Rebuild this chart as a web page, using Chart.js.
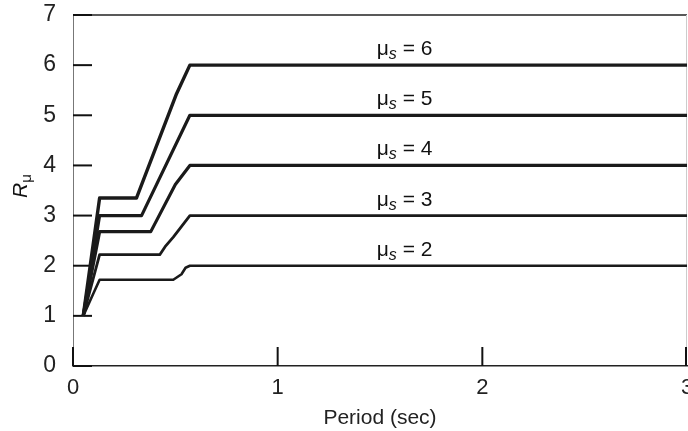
<!DOCTYPE html>
<html>
<head>
<meta charset="utf-8">
<script src="https://cdn.jsdelivr.net/npm/chart.js@4"></script>
<style>
  html, body { margin: 0; padding: 0; background: #fff; }
  #wrap { width: 688px; height: 431px; }
</style>
</head>
<body>
<div id="wrap"><canvas id="chart" width="688" height="431"></canvas></div>
<script>
// period (sec) and R_mu points for each ductility curve
const mu2T = [0.05, 0.1, 0.13, 0.49, 0.53, 0.55, 0.571, 3];
const mu2R = [1, 1.45, 1.72, 1.72, 1.83, 1.96, 2, 2];
const mu3T = [0.05, 0.13, 0.424, 0.45, 0.49, 0.571, 3];
const mu3R = [1, 2.22, 2.22, 2.38, 2.57, 3, 3];
const mu4T = [0.05, 0.13, 0.38, 0.5, 0.571, 3];
const mu4R = [1, 2.68, 2.68, 3.62, 4, 4];
const mu5T = [0.05, 0.13, 0.335, 0.571, 3];
const mu5R = [1, 3, 3, 5, 5];
const mu6T = [0.05, 0.13, 0.31, 0.506, 0.571, 3];
const mu6R = [1, 3.35, 3.35, 5.43, 6, 6];

const muValues = [2, 3, 4, 5, 6];
const labelPeriod = 1.62;
const xTicks = [0, 1, 2, 3];
const yTicks = [0, 1, 2, 3, 4, 5, 6, 7];

const FONT = "'Liberation Sans', Arial, Helvetica, sans-serif";

function toPoints(ts, rs) {
  return ts.map((t, i) => ({ x: t, y: rs[i] }));
}

const curves = [
  { mu: 2, pts: toPoints(mu2T, mu2R), w: 2.6 },
  { mu: 3, pts: toPoints(mu3T, mu3R), w: 2.8 },
  { mu: 4, pts: toPoints(mu4T, mu4R), w: 3.2 },
  { mu: 5, pts: toPoints(mu5T, mu5R), w: 3.2 },
  { mu: 6, pts: toPoints(mu6T, mu6R), w: 3.4 }
];

// inward ticks + top/right frame
const framePlugin = {
  id: 'frame',
  beforeDatasetsDraw(chart) {
    const { ctx, chartArea: a, scales } = chart;
    ctx.save();
    ctx.strokeStyle = '#222';
    ctx.lineWidth = 1.5;
    ctx.beginPath();
    ctx.moveTo(a.left, a.top);
    ctx.lineTo(a.right, a.top);
    ctx.stroke();
    ctx.strokeStyle = '#ccc';
    ctx.lineWidth = 1;
    ctx.beginPath();
    ctx.moveTo(a.right - 0.5, a.top);
    ctx.lineTo(a.right - 0.5, a.bottom);
    ctx.stroke();

    ctx.strokeStyle = '#111';
    ctx.lineWidth = 2;
    yTicks.forEach(v => {
      const y = scales.y.getPixelForValue(v);
      ctx.beginPath();
      ctx.moveTo(a.left, y);
      ctx.lineTo(a.left + 19, y);
      ctx.stroke();
    });
    xTicks.forEach(v => {
      const x = Math.min(scales.x.getPixelForValue(v), a.right - 1);
      ctx.beginPath();
      ctx.moveTo(x, a.bottom);
      ctx.lineTo(x, a.bottom - 19);
      ctx.stroke();
    });
    ctx.restore();
  },
  afterDatasetsDraw(chart) {
    const { ctx, scales } = chart;
    ctx.save();
    ctx.fillStyle = '#111';
    ctx.textBaseline = 'alphabetic';
    muValues.forEach(mu => {
      const cx = scales.x.getPixelForValue(labelPeriod);
      const base = scales.y.getPixelForValue(mu) - 10;
      const f1 = '21px ' + FONT;
      const f2 = 'italic 16px ' + FONT;
      ctx.font = f1;
      const wMu = ctx.measureText('\u03bc').width;
      const tail = ' = ' + mu;
      const wTail = ctx.measureText(tail).width;
      ctx.font = f2;
      const wS = ctx.measureText('s').width;
      let x = cx - (wMu + wS + wTail) / 2;
      ctx.font = f1;
      ctx.fillText('\u03bc', x, base);
      x += wMu;
      ctx.font = f2;
      ctx.fillText('s', x, base + 4);
      x += wS;
      ctx.font = f1;
      ctx.fillText(tail, x, base);
    });

    // y axis title R_mu
    ctx.translate(27, 190);
    ctx.rotate(-Math.PI / 2);
    ctx.font = 'italic 21px ' + FONT;
    ctx.fillText('R', -8, 0);
    const wR = ctx.measureText('R').width;
    ctx.font = '15px ' + FONT;
    ctx.fillText('\u03bc', -8 + wR, 4);
    ctx.restore();
  }
};

new Chart(document.getElementById('chart'), {
  type: 'scatter',
  data: {
    datasets: curves.map(c => ({
      label: 'mu_s = ' + c.mu,
      data: c.pts,
      showLine: true,
      borderColor: '#1a1a1a',
      borderWidth: c.w,
      pointRadius: 0,
      tension: 0,
      borderJoinStyle: 'round'
    }))
  },
  options: {
    responsive: false,
    animation: false,
    layout: { padding: { top: 15, right: 1, left: 0, bottom: 0 } },
    plugins: {
      legend: { display: false },
      tooltip: { enabled: false }
    },
    scales: {
      x: {
        type: 'linear',
        min: 0,
        max: 3,
        grid: { display: false },
        border: { display: true, color: '#222', width: 1.5 },
        ticks: {
          stepSize: 1,
          padding: 1,
          color: '#222',
          font: { family: FONT, size: 22 }
        },
        title: {
          display: true,
          text: 'Period (sec)',
          color: '#222',
          padding: { top: 4, bottom: 0 },
          font: { family: FONT, size: 21 }
        },
        afterFit(scale) {
          scale.height = 65;
          scale.paddingLeft = 0;
          scale.paddingRight = 0;
        }
      },
      y: {
        type: 'linear',
        min: 0,
        max: 7,
        grid: { display: false },
        border: { display: true, color: '#777', width: 1 },
        ticks: {
          stepSize: 1,
          padding: 9,
          color: '#222',
          font: { family: FONT, size: 23 }
        },
        afterFit(scale) {
          scale.width = 73;
          scale.paddingTop = 0;
          scale.paddingBottom = 0;
        }
      }
    }
  },
  plugins: [framePlugin]
});
</script>
</body>
</html>
